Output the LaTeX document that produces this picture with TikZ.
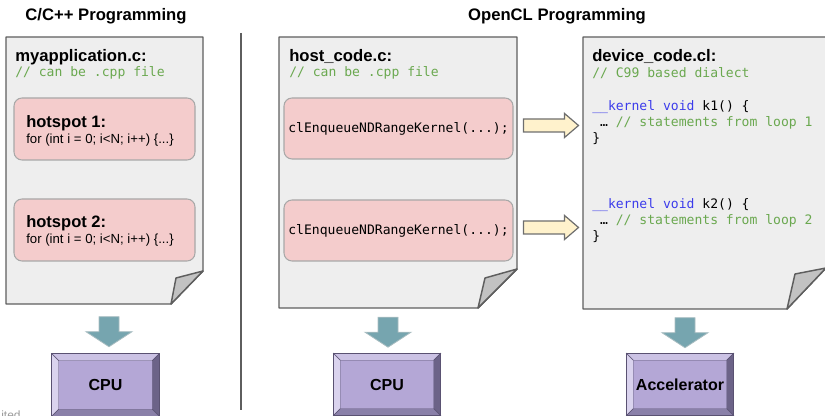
\documentclass[tikz,border=0pt]{standalone}
\usepackage{fontspec}
\setmainfont{Liberation Sans}
\newfontfamily\codefont{DejaVu Sans Mono}
\usetikzlibrary{calc}

\definecolor{paper}{HTML}{EEEEEE}
\definecolor{edge}{HTML}{5E5E5E}
\definecolor{flap}{HTML}{C2C2C2}
\definecolor{hotfill}{HTML}{F4CCCC}
\definecolor{hotedge}{HTML}{A8A8A8}
\definecolor{cmtgreen}{HTML}{6AA84F}
\definecolor{kwblue}{HTML}{3C3CEB}
\definecolor{callfill}{HTML}{FFF2CC}
\definecolor{calledge}{HTML}{6E6E6E}
\definecolor{tealfill}{HTML}{76A5AF}
\definecolor{tealedge}{HTML}{A9BDC1}
\definecolor{cpufill}{HTML}{B4A7D6}
\definecolor{cpuedge}{HTML}{5A5272}
\definecolor{bvtop}{HTML}{CBC2E4}
\definecolor{bvleft}{HTML}{DAD3EE}
\definecolor{bvright}{HTML}{6C6388}
\definecolor{bvbottom}{HTML}{8A80A9}
\definecolor{note}{HTML}{9A9A9A}

% sheet of paper with a curled bottom-right corner:
% #1 name, #2/#3 fold size (x/y), #4/#5 inner point of the curl
\newcommand\pagesheet[5]{%
  \draw[sheet] (#1-nw) -- (#1-nw -| #1-se) -- ($(#1-se)+(0,-#3)$)
    -- ($(#1-se)+(-#2,0)$) -- (#1-nw |- #1-se) -- cycle;
  \draw[curl] ($(#1-se)+(0,-#3)$) -- ($(#1-se)+(-#4,-#5)$)
    -- ($(#1-se)+(-#2,0)$) -- cycle;}

% bevelled faces of a processor box
\newcommand\bevelfaces[1]{%
  \filldraw[bevel, fill=bvtop] (#1.north west) -- (#1.north east)
    -- ($(#1.north east)+(-7,7)$) -- ($(#1.north west)+(7,7)$) -- cycle;
  \filldraw[bevel, fill=bvleft] (#1.north west) -- ($(#1.north west)+(7,7)$)
    -- ($(#1.south west)+(7,-7)$) -- (#1.south west) -- cycle;
  \filldraw[bevel, fill=bvright] (#1.north east) -- ($(#1.north east)+(-7,7)$)
    -- ($(#1.south east)+(-7,-7)$) -- (#1.south east) -- cycle;
  \filldraw[bevel, fill=bvbottom] (#1.south west) -- ($(#1.south west)+(7,-7)$)
    -- ($(#1.south east)+(-7,-7)$) -- (#1.south east) -- cycle;
  \draw[cpuedge, line width=0.5pt] (#1.north west) rectangle (#1.south east);}

\tikzset{
  sheet/.style={draw=edge, fill=paper, line width=1.1pt, line join=round},
  curl/.style={draw=edge, fill=flap, line width=1.1pt, line join=round},
  section/.style={anchor=base, inner sep=0, font=\bfseries\fontsize{12.5}{15}\selectfont},
  pagetitle/.style={anchor=base west, inner sep=0, font=\bfseries\fontsize{12.5}{15}\selectfont},
  codeline/.style={anchor=base west, inner sep=0, font=\codefont\fontsize{9.8}{12}\selectfont},
  comment/.style={codeline, text=cmtgreen},
  hotbox/.style={draw=hotedge, fill=hotfill, line width=0.8pt, rounded corners=6pt,
    inner sep=0, minimum width={181*0.75pt}, minimum height={62*0.75pt}},
  callbox/.style={hotbox, minimum width={229*0.75pt}, minimum height={61*0.75pt},
    font=\codefont\fontsize{9.8}{12}\selectfont},
  hottitle/.style={anchor=base west, inner sep=0, font=\bfseries\fontsize{12.4}{15}\selectfont},
  hotloop/.style={anchor=base west, inner sep=0, font=\fontsize{9.9}{12}\selectfont},
  procbox/.style={fill=cpufill, inner sep=0, minimum width={107*0.75pt},
    minimum height={62*0.75pt}, font=\bfseries\fontsize{12}{14}\selectfont},
  proclabel/.style={inner sep=0, font=\bfseries\fontsize{12}{14}\selectfont},
  bevel/.style={draw=cpuedge, line width=0.3pt},
  divider/.style={draw=edge, line width=0.9pt},
  callarrow/.style={draw=calledge, fill=callfill, line width=0.9pt, line join=miter},
  downarrow/.style={draw=tealedge, fill=tealfill, line width=0.6pt},
  rightblock/.pic={\path[callarrow] (0,-6.5) -- (41,-6.5) -- (41,-12) -- (55,0)
      -- (41,12) -- (41,6.5) -- (0,6.5) -- cycle;},
  downblock/.pic={\path[downarrow] (-10,0) -- (10,0) -- (10,15) -- (23,15) -- (0,30)
      -- (-23,15) -- (-10,15) -- cycle;}
}

\begin{document}
\begin{tikzpicture}[x=0.75pt, y=-0.75pt]
\useasboundingbox (0,0) rectangle (825,416);

% section headings and divider
\node[section] (plainhead) at (106,21) {C/C++ Programming};
\node[section] (oclhead) at (557,21) {OpenCL Programming};
\coordinate (divtop) at (241,33);
\coordinate (divbot) at (241,410);
\draw[divider] (divtop) -- (divbot);

% the three source files
\coordinate (app-nw) at (6,37);   \coordinate (app-se) at (203,304);
\coordinate (host-nw) at (279,37); \coordinate (host-se) at (517,308);
\coordinate (dev-nw) at (583,37);  \coordinate (dev-se) at (826,309);
\pagesheet{app}{32}{33}{27}{26}
\pagesheet{host}{39}{39}{32}{30}
\pagesheet{dev}{39}{41}{31}{35}

% myapplication.c
\node[pagetitle] (apptitle) at (15,62) {myapplication.c:};
\node[comment] (appnote) at (15,77) {// can be .cpp file};
\node[hotbox] (hot1) at (104.5,129) {};
\node[hottitle] (hot1t) at (26,128) {hotspot 1:};
\node[hotloop] (hot1l) at (26,144) {for (int i = 0; i<N; i++) \{...\}};
\node[hotbox] (hot2) at (104.5,230) {};
\node[hottitle] (hot2t) at (26,228) {hotspot 2:};
\node[hotloop] (hot2l) at (26,244) {for (int i = 0; i<N; i++) \{...\}};

% host_code.c
\node[pagetitle] (hosttitle) at (289,62) {host\_code.c:};
\node[comment] (hostnote) at (289,77) {// can be .cpp file};
\node[callbox] (call1) at (398.5,128.5) {clEnqueueNDRangeKernel(...);};
\node[callbox] (call2) at (398.5,230.5) {clEnqueueNDRangeKernel(...);};

% device_code.cl
\node[pagetitle] (devtitle) at (592,62) {device\_code.cl:};
\node[comment] (devnote) at (592,78) {// C99 based dialect};
\node[codeline] (k1a) at (592,111) {\textcolor{kwblue}{\_\_kernel void} k1() \{};
\node[codeline] (k1b) at (592,127) {\ … \textcolor{cmtgreen}{// statements from loop 1}};
\node[codeline] (k1c) at (592,143) {\}};
\node[codeline] (k2a) at (592,209) {\textcolor{kwblue}{\_\_kernel void} k2() \{};
\node[codeline] (k2b) at (592,225) {\ … \textcolor{cmtgreen}{// statements from loop 2}};
\node[codeline] (k2c) at (592,241) {\}};

% launches: host call -> kernel
\pic at ($(call1.east)+(10,-3)$) {rightblock};
\pic at ($(call2.east)+(10,-3)$) {rightblock};

% processors
\node[procbox] (cpu1) at (105.5,385) {};
\node[procbox] (cpu2) at (387,384.5) {};
\node[procbox] (accel) at (680,384.5) {};
\bevelfaces{cpu1}
\bevelfaces{cpu2}
\bevelfaces{accel}
\node[proclabel] (cpu1t) at (cpu1.center) {CPU};
\node[proclabel] (cpu2t) at (cpu2.center) {CPU};
\node[proclabel] (accelt) at (accel.center) {Accelerator};

% compile/run arrows: file -> processor
\pic at ($(cpu1.north)+(3.5,-37)$) {downblock};
\pic at ($(cpu2.north)+(1,-36)$) {downblock};
\pic at ($(accel.north)+(5,-35.5)$) {downblock};

% cut-off footnote
\node[anchor=base west, inner sep=0, text=note, font=\fontsize{9}{11}\selectfont] (foot) at (1,420) {ited};
\end{tikzpicture}
\end{document}
